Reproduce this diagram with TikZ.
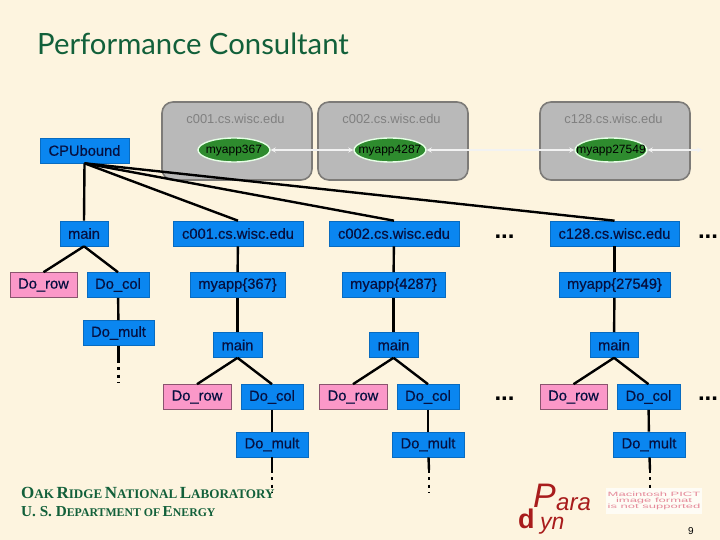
\documentclass[tikz,border=0pt]{standalone}
\usepackage{fontspec}
\setmainfont{Liberation Sans}
\newfontfamily\boxfont[FakeBold=0.5]{Liberation Sans}
\newfontfamily\pictfont[FakeStretch=2.1]{Liberation Sans}
\newfontfamily\titlefont{Lato}
\newfontfamily\labfont{Liberation Serif}
\definecolor{parchment}{HTML}{FDF4DF}
\definecolor{fnblue}{HTML}{0A86F0}
\definecolor{fnpink}{HTML}{FB98C8}
\definecolor{fnink}{HTML}{061040}
\definecolor{hostgray}{HTML}{B9B9B9}
\definecolor{hostedge}{HTML}{7D7B78}
\definecolor{procgreen}{HTML}{2E8B2E}
\definecolor{labgreen}{HTML}{12603A}
\definecolor{parared}{HTML}{A81C1C}
\definecolor{pictrose}{HTML}{E58A9A}
\newcommand{\smc}[2]{{\fontsize{17}{17}\selectfont #1}{\fontsize{13.1}{13}\selectfont #2}}
\newcommand{\smd}[2]{{\fontsize{15.2}{15}\selectfont #1}{\fontsize{11.8}{12}\selectfont #2}}
\newcommand{\proclabel}[1]{\raisebox{-4pt}[0pt][0pt]{\makebox[0pt]{#1}}}
\tikzset{
  fn/.style={fill=fnblue, draw=fnblue!80!black, line width=0.6pt, inner sep=0pt, minimum height=25pt, text=fnink, font=\boxfont\fontsize{14.7}{15}\selectfont},
  prune/.style={fn, fill=fnpink, draw=fnpink!55!black},
  host/.style={fill=hostgray, draw=hostedge, line width=1.6pt, rounded corners=11pt, minimum height=78pt, minimum width=150pt, inner sep=0pt},
  hostlabel/.style={text=gray, font=\fontsize{12.9}{13}\selectfont},
  proc/.style={ellipse, fill=procgreen, draw=green!10!white, line width=1.4pt, minimum width=72pt, minimum height=24pt, inner sep=0pt, font=\fontsize{12}{12}\selectfont},
  link/.style={draw=black, line width=2.4pt},
  elided/.style={draw=black, line width=2.8pt, dash pattern=on 3pt off 4.3pt},
  ctrl/.style={draw=white!90!gray, line width=1.2pt, <->, >=stealth},
  more/.style={anchor=base, inner sep=0pt, font=\bfseries\fontsize{24}{24}\selectfont}
}
\usetikzlibrary{shapes.geometric}
\begin{document}
\begin{tikzpicture}[x=1pt, y=-1pt]
      \fill[parchment] (0,0) rectangle (720,540);
      \node[text=labgreen, anchor=base west, inner sep=0pt, font=\titlefont\fontsize{29.3}{30}\selectfont] (title) at (37,55) {Performance Consultant};
      % hosts
      \node[host] (h1) at (237,141) {};
      \node[host] (h2) at (393,141) {};
      \node[host] (h3) at (615,141) {};
      \node[hostlabel] (h1l) at (235.5,119) {c001.cs.wisc.edu};
      \node[hostlabel] (h2l) at (391.5,119) {c002.cs.wisc.edu};
      \node[hostlabel] (h3l) at (613.5,119) {c128.cs.wisc.edu};
      \node[proc] (p1) at (234,150) {\proclabel{myapp367}};
      \node[proc] (p2) at (390,150) {\proclabel{myapp4287}};
      \node[proc] (p3) at (611,150) {\proclabel{myapp27549}};
      \coordinate (pout) at (702,150);
      \draw[ctrl] (p1) -- (p2);
      \draw[ctrl] (p2) -- (p3);
      \draw[ctrl] (p3) -- (pout);
      % top of the tree
      \node[fn, minimum width=89pt] (cpu) at (84.5,150.5) {CPUbound};
      \node[fn, minimum width=48pt] (main0) at (84,233.5) {main};
      \node[fn, minimum width=130pt] (c1) at (238,233.5) {c001.cs.wisc.edu};
      \node[fn, minimum width=130pt] (c2) at (394,233.5) {c002.cs.wisc.edu};
      \node[fn, minimum width=129pt] (c3) at (614.5,233.5) {c128.cs.wisc.edu};
      \node[prune, minimum width=67pt] (row0) at (43.5,285) {Do\_row};
      \node[fn, minimum width=62pt] (col0) at (118,285) {Do\_col};
      \node[fn, minimum width=95pt] (a1) at (237.5,285) {myapp\{367\}};
      \node[fn, minimum width=103pt] (a2) at (393.5,285) {myapp\{4287\}};
      \node[fn, minimum width=111pt] (a3) at (614.5,285) {myapp\{27549\}};
      \node[fn, minimum width=71pt] (mult0) at (118.5,333) {Do\_mult};
      % one subtree per process
      \node[fn, minimum width=49pt] (main1) at (237.5,345) {main};
      \node[fn, minimum width=49pt] (main2) at (393.5,345) {main};
      \node[fn, minimum width=48pt] (main3) at (614,345) {main};
      \node[prune, minimum width=68pt] (row1) at (197,397) {Do\_row};
      \node[prune, minimum width=68pt] (row2) at (353,397) {Do\_row};
      \node[prune, minimum width=67pt] (row3) at (573.5,397) {Do\_row};
      \node[fn, minimum width=62pt] (col1) at (272,397) {Do\_col};
      \node[fn, minimum width=62pt] (col2) at (428,397) {Do\_col};
      \node[fn, minimum width=63pt] (col3) at (648.5,397) {Do\_col};
      \node[fn, minimum width=72pt] (mult1) at (272,444.5) {Do\_mult};
      \node[fn, minimum width=72pt] (mult2) at (428,444.5) {Do\_mult};
      \node[fn, minimum width=72pt] (mult3) at (649,444.5) {Do\_mult};
      \node[more] (more1) at (504.5,238) {...};
      \node[more] (more2) at (708,238) {...};
      \node[more] (more3) at (504.5,400) {...};
      \node[more] (more4) at (708,400) {...};
      \coordinate (cut0) at (118.5,360);
      \coordinate (end0) at (118.5,382);
      \coordinate (cut1) at (272,470);
      \coordinate (end1) at (272,492);
      \coordinate (cut2) at (429,470);
      \coordinate (end2) at (429,492);
      \coordinate (cut3) at (650,470);
      \coordinate (end3) at (650,490);
      \draw[link] (cpu.south) -- (main0.north);
      \draw[link] (cpu.south) -- (c1.north);
      \draw[link] (cpu.south) -- (c2.north);
      \draw[link] (cpu.south) -- (c3.north);
      \draw[link] (main0.south) -- (row0.north);
      \draw[link] (main0.south) -- (col0.north);
      \draw[link] (col0) -- (mult0);
      \draw[link] (mult0) -- (cut0);
      \draw[elided] (cut0) -- (end0);
      \draw[link] (c1) -- (a1);
      \draw[link] (a1) -- (main1);
      \draw[link] (main1.south) -- (row1.north);
      \draw[link] (main1.south) -- (col1.north);
      \draw[link] (col1) -- (mult1);
      \draw[link] (mult1) -- (cut1);
      \draw[elided] (cut1) -- (end1);
      \draw[link] (c2) -- (a2);
      \draw[link] (a2) -- (main2);
      \draw[link] (main2.south) -- (row2.north);
      \draw[link] (main2.south) -- (col2.north);
      \draw[link] (col2) -- (mult2);
      \draw[link] (mult2) -- (cut2);
      \draw[elided] (cut2) -- (end2);
      \draw[link] (c3) -- (a3);
      \draw[link] (a3) -- (main3);
      \draw[link] (main3.south) -- (row3.north);
      \draw[link] (main3.south) -- (col3.north);
      \draw[link] (col3) -- (mult3);
      \draw[link] (mult3) -- (cut3);
      \draw[elided] (cut3) -- (end3);
      % footer
      \node[text=labgreen, anchor=base west, inner sep=0pt, font=\labfont\bfseries] (lab1) at (21,498) {\smc{O}{AK} \smc{R}{IDGE} \smc{N}{ATIONAL} \smc{L}{ABORATORY}};
      \node[text=labgreen, anchor=base west, inner sep=0pt, font=\labfont\bfseries] (lab2) at (21,516) {\smd{U. S. D}{EPARTMENT OF} \smd{E}{NERGY}};
      \node[text=parared, anchor=base west, inner sep=0pt, font=\itshape\fontsize{34}{34}\selectfont] (pp) at (533,507) {P};
      \node[text=parared, anchor=base west, inner sep=0pt, font=\itshape\fontsize{24}{24}\selectfont] (pa) at (556,510) {ara};
      \node[text=parared, anchor=base west, inner sep=0pt, font=\bfseries\fontsize{27}{27}\selectfont] (pd) at (518,528) {d};
      \node[text=parared, anchor=base west, inner sep=0pt, font=\itshape\fontsize{23}{23}\selectfont] (py) at (540,529) {yn};
      \node[fill=white!70!parchment, inner sep=0pt, minimum width=96pt, minimum height=26pt, text=pictrose, align=center, font=\pictfont\fontsize{6.2}{6}\selectfont] (pict) at (654,501) {Macintosh PICT\\image format\\is not supported};
      \node[inner sep=0pt, font=\fontsize{10}{10}\selectfont] (page) at (691,531) {9};
    \end{tikzpicture}
\end{document}
